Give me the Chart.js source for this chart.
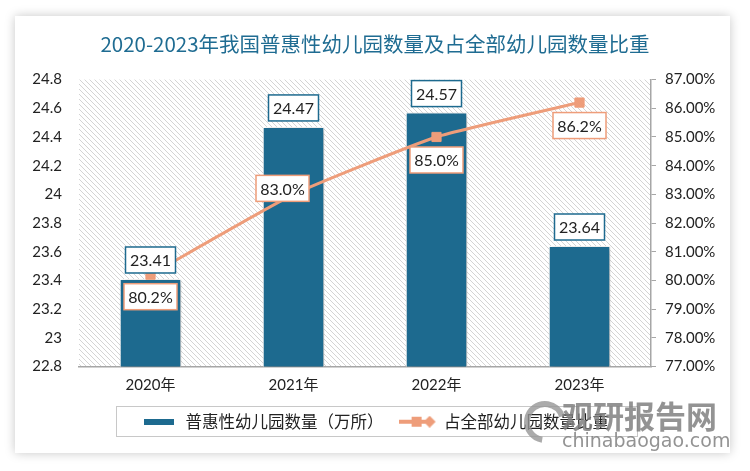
<!DOCTYPE html>
<html>
<head>
<meta charset="utf-8">
<script src="https://cdn.jsdelivr.net/npm/chart.js@4.4.1/dist/chart.umd.min.js"></script>
<style>
    html, body { margin: 0; padding: 0; background: #ffffff; }
    #wrap { width: 750px; height: 471px; }
</style>
</head>
<body>
<div id="wrap"><canvas id="chart" width="750" height="471"></canvas></div>
<script>
// 2020-2023 普惠性幼儿园数量及占比

const years = ['2020年', '2021年', '2022年', '2023年'];
const kindergartenCount = [23.41, 24.47, 24.57, 23.64];   // 万所
const shareOfAll = [80.2, 83.0, 85.0, 86.2];               // %
const leftTicks = [22.8, 23, 23.2, 23.4, 23.6, 23.8, 24, 24.2, 24.4, 24.6, 24.8];
const rightTicks = [77, 78, 79, 80, 81, 82, 83, 84, 85, 86, 87];

const BLUE = '#1D6A8F';
const ORANGE = '#EE9D7A';
const TEXT = '#222222';

// label placement (offset of the share labels from their points)
const shareLabelShiftY = [22, -6, 23, 23];
const shareLabelShiftX = [0, -11, 0, 0];

// Hatched plot background
function makeHatch() {
    const c = document.createElement('canvas');
    c.width = 5; c.height = 5;
    const g = c.getContext('2d');
    g.fillStyle = '#ffffff';
    g.fillRect(0, 0, 5, 5);
    g.strokeStyle = '#d4d4d4';
    g.lineWidth = 1;
    g.beginPath();
    g.moveTo(-1, -1); g.lineTo(6, 6);
    g.moveTo(-1, 4); g.lineTo(1, 6);
    g.moveTo(4, -1); g.lineTo(6, 1);
    g.stroke();
    return c;
}

// Legend markers
function makeBarMarker() {
    const c = document.createElement('canvas');
    c.width = 30; c.height = 6;
    const g = c.getContext('2d');
    g.fillStyle = BLUE;
    g.fillRect(0, 0, 30, 6);
    return c;
}

function makeLineMarker() {
    const c = document.createElement('canvas');
    c.width = 38; c.height = 12;
    const g = c.getContext('2d');
    g.strokeStyle = ORANGE;
    g.lineWidth = 4;
    g.beginPath();
    g.moveTo(0, 6); g.lineTo(32, 6);
    g.stroke();
    g.fillStyle = ORANGE;
    g.fillRect(13, 1, 10, 10);
    g.beginPath();
    g.moveTo(31, 0); g.lineTo(37, 6); g.lineTo(31, 12); g.lineTo(25, 6);
    g.closePath();
    g.fill();
    return c;
}

const hatch = makeHatch();

const cardPlugin = {
    id: 'card',
    beforeDraw(chart) {
        const ctx = chart.ctx;
        ctx.save();
        ctx.fillStyle = '#ffffff';
        ctx.fillRect(0, 0, chart.width, chart.height);
        ctx.shadowColor = 'rgba(0,0,0,0.22)';
        ctx.shadowBlur = 10;
        ctx.fillRect(15, 16, 715, 437);
        ctx.restore();

        const a = chart.chartArea;
        ctx.save();
        ctx.fillStyle = ctx.createPattern(hatch, 'repeat');
        ctx.fillRect(a.left, a.top, a.right - a.left, a.bottom - a.top);
        ctx.restore();
    }
};

const barShadowPlugin = {
    id: 'barShadow',
    beforeDatasetDraw(chart, args) {
        if (args.index !== 0) return;
        const ctx = chart.ctx;
        ctx.save();
        ctx.shadowColor = 'rgba(0,0,0,0.35)';
        ctx.shadowBlur = 5;
        ctx.shadowOffsetX = 2;
        ctx.shadowOffsetY = 1;
    },
    afterDatasetDraw(chart, args) {
        if (args.index !== 0) return;
        chart.ctx.restore();
    }
};

function drawBoxLabel(ctx, text, cx, cy, w, h, border) {
    ctx.fillStyle = '#ffffff';
    ctx.fillRect(cx - w / 2, cy - h / 2, w, h);
    ctx.strokeStyle = border;
    ctx.lineWidth = 1.5;
    ctx.strokeRect(cx - w / 2, cy - h / 2, w, h);
    ctx.fillStyle = TEXT;
    ctx.textAlign = 'center';
    ctx.textBaseline = 'middle';
    ctx.fillText(text, cx, cy + 1);
}

const valueLabelPlugin = {
    id: 'valueLabels',
    afterDatasetsDraw(chart) {
        const ctx = chart.ctx;
        ctx.save();
        ctx.font = '16px Lato, "Open Sans", sans-serif';
        chart.getDatasetMeta(0).data.forEach((bar, i) => {
            drawBoxLabel(ctx, kindergartenCount[i].toFixed(2), bar.x, bar.y - 19, 50, 26, BLUE);
        });
        chart.getDatasetMeta(1).data.forEach((pt, i) => {
            drawBoxLabel(ctx, shareOfAll[i].toFixed(1) + '%', pt.x + shareLabelShiftX[i], pt.y + shareLabelShiftY[i], 53, 26, ORANGE);
        });
        ctx.restore();
    }
};

const legendBoxPlugin = {
    id: 'legendBox',
    afterDraw(chart) {
        const ctx = chart.ctx;
        ctx.save();
        ctx.strokeStyle = '#c8c8c8';
        ctx.lineWidth = 1;
        ctx.strokeRect(116.5, 406.5, 521, 30);

        // watermark
        ctx.strokeStyle = 'rgba(150,150,150,0.8)';
        ctx.lineWidth = 6;
        ctx.beginPath();
        ctx.arc(545, 422, 18, Math.PI * 0.55, Math.PI * 1.9);
        ctx.stroke();
        ctx.fillStyle = 'rgba(128,128,128,0.85)';
        ctx.textBaseline = 'alphabetic';
        ctx.textAlign = 'left';
        ctx.font = 'bold 31px "Noto Sans CJK SC", sans-serif';
        ctx.fillText('观研报告网', 562, 428);
        ctx.font = '19px "DejaVu Sans", sans-serif';
        ctx.fillText('chinabaogao.com', 562, 447);
        ctx.restore();
    }
};

Chart.defaults.font.family = 'Lato, "Open Sans", sans-serif';
Chart.defaults.color = TEXT;

new Chart(document.getElementById('chart'), {
    type: 'bar',
    data: {
        labels: years,
        datasets: [
            {
                type: 'bar',
                label: '普惠性幼儿园数量（万所）',
                data: kindergartenCount,
                backgroundColor: BLUE,
                borderColor: '#ffffff',
                borderWidth: 1,
                barPercentage: 0.43,
                categoryPercentage: 1,
                yAxisID: 'y',
                order: 1
            },
            {
                type: 'line',
                label: '占全部幼儿园数量比重',
                data: shareOfAll,
                borderColor: ORANGE,
                backgroundColor: ORANGE,
                borderWidth: 3,
                pointStyle: 'rect',
                pointRadius: 6.5,
                pointBorderWidth: 1,
                pointBorderColor: ORANGE,
                tension: 0.15,
                yAxisID: 'y1',
                order: 0
            }
        ]
    },
    options: {
        responsive: false,
        animation: false,
        layout: { padding: { left: 0, right: 0, top: 0, bottom: 31 } },
        plugins: {
            title: {
                display: true,
                text: '2020-2023年我国普惠性幼儿园数量及占全部幼儿园数量比重',
                color: '#1F6C92',
                font: { family: '"Noto Sans CJK SC", sans-serif', size: 20.5, weight: 'normal' },
                padding: { top: 32, bottom: 23 }
            },
            legend: {
                position: 'bottom',
                labels: {
                    usePointStyle: true,
                    pointStyleWidth: 36,
                    boxHeight: 12,
                    padding: 8,
                    font: { family: '"Noto Sans CJK SC", sans-serif', size: 16.5 },
                    generateLabels: () => [
                        { text: '普惠性幼儿园数量（万所）\u3000', pointStyle: makeBarMarker(), datasetIndex: 0, lineWidth: 0, fontColor: TEXT },
                        { text: '占全部幼儿园数量比重', pointStyle: makeLineMarker(), datasetIndex: 1, lineWidth: 0, fontColor: TEXT }
                    ]
                }
            },
            tooltip: { enabled: false }
        },
        scales: {
            x: {
                grid: { display: false },
                border: { display: true, color: '#a6a6a6', width: 1.5 },
                ticks: { padding: 2, maxRotation: 0, autoSkip: false, font: { size: 15, family: 'Lato, "Noto Sans CJK SC", sans-serif' } },
                afterFit: (s) => { s.height = 39; }
            },
            y: {
                position: 'left',
                min: 22.8,
                max: 24.8,
                afterBuildTicks: (s) => { s.ticks = leftTicks.map(v => ({ value: v })); },
                grid: { display: false, drawTicks: false },
                border: { display: false },
                ticks: {
                    padding: 17,
                    font: { size: 15 },
                    callback: (v) => String(parseFloat(Number(v).toFixed(1)))
                },
                afterFit: (s) => { s.width = 79; }
            },
            y1: {
                position: 'right',
                min: 77,
                max: 87,
                afterBuildTicks: (s) => { s.ticks = rightTicks.map(v => ({ value: v })); },
                grid: { display: true, drawOnChartArea: false, drawTicks: true, tickLength: 5, color: '#a6a6a6' },
                border: { display: true, color: '#a6a6a6', width: 1.5 },
                ticks: {
                    padding: 9,
                    font: { size: 15 },
                    callback: (v) => Number(v).toFixed(2) + '%'
                },
                afterFit: (s) => { s.width = 99; }
            }
        }
    },
    plugins: [cardPlugin, barShadowPlugin, valueLabelPlugin, legendBoxPlugin]
});
</script>
</body>
</html>
